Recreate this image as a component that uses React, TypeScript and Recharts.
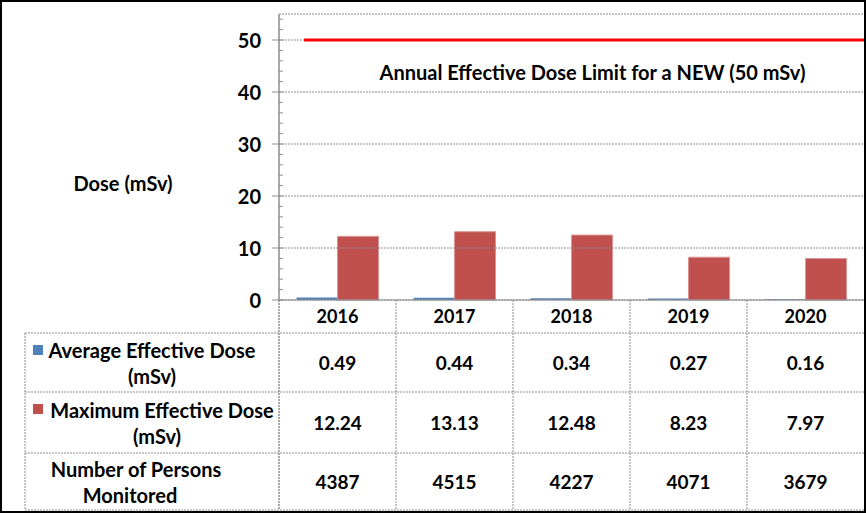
import React from "react";
import { BarChart, Bar, XAxis, YAxis, ReferenceLine } from "recharts";

const YEARS = ["2016", "2017", "2018", "2019", "2020"];
const AVG_DOSE = [0.49, 0.44, 0.34, 0.27, 0.16];
const MAX_DOSE = [12.24, 13.13, 12.48, 8.23, 7.97];
const PERSONS = [4387, 4515, 4227, 4071, 3679];
const DOSE_LIMIT = 50;

const MAJOR_TICKS = [0, 10, 20, 30, 40, 50];
const MINOR_TICKS = [0, 2, 4, 6, 8, 10, 12, 14, 16, 18, 20, 22, 24, 26, 28, 30, 32, 34, 36, 38, 40, 42, 44, 46, 48, 50, 52, 54];

const W = 866;
const H = 513;
const PLOT_LEFT = 279;
const PLOT_RIGHT = 864;
const PLOT_TOP = 14;
const PLOT_BOTTOM = 300;
const BAND = (PLOT_RIGHT - PLOT_LEFT) / YEARS.length;

const BLUE = "#4F81BD";
const RED = "#C0504D";
const GRID = "#8c8c8c";
const FONT = "Lato, 'Noto Sans', sans-serif";

const chartData = YEARS.map((year, i) => ({
  year,
  avg: AVG_DOSE[i],
  max: MAX_DOSE[i],
}));

// table rows under the plot (legend key + label lines + values)
const ROWS = [
  { color: BLUE, lines: ["Average Effective Dose", "(mSv)"], cx: [152, 152], values: AVG_DOSE.map((v) => v.toFixed(2)) },
  { color: RED, lines: ["Maximum Effective Dose", "(mSv)"], cx: [162, 157], values: MAX_DOSE.map((v) => v.toFixed(2)) },
  { color: null, lines: ["Number of Persons", "Monitored"], cx: [136, 130], values: PERSONS.map((v) => String(v)) },
];
const ROW_LINES = [333, 392, 453, 510];

const YTick = ({ x, y, payload }: any) => {
  const major = payload.value % 10 === 0;
  return (
    <g>
      <line x1={x} x2={x + 4} y1={y} y2={y} stroke={GRID} />
      {major && <line x1={x - 7} x2={x} y1={y} y2={y} stroke={GRID} />}
      {major && (
        <text x={x - 18} y={y} textAnchor="end" dominantBaseline="central" fontSize={20} fontWeight="bold" fill="#000" fontFamily={FONT}>
          {payload.value}
        </text>
      )}
    </g>
  );
};

const XTick = ({ x, y, payload }: any) => (
  <text x={x} y={y + 16} textAnchor="middle" dominantBaseline="central" fontSize={18} fontWeight="bold" fill="#000" fontFamily={FONT}>
    {payload.value}
  </text>
);

const renderLimitLine = (p: any) => (
  <line x1={p.x1 + 25} y1={p.y1} x2={p.x2 + 2} y2={p.y2} stroke="#ff0000" strokeWidth={3} />
);

const renderLimitLabel = (p: any) => {
  const vb = p && p.viewBox ? p.viewBox : { x: PLOT_LEFT, y: 40, width: PLOT_RIGHT - PLOT_LEFT };
  return (
    <text x={vb.x + vb.width / 2 + 21} y={vb.y + 32} textAnchor="middle" dominantBaseline="central" fontSize={20} fontWeight="bold" fill="#000" fontFamily={FONT}>
      Annual Effective Dose Limit for a NEW (50 mSv)
    </text>
  );
};

const TableOverlay = () => {
  const cols = YEARS.map((_, i) => PLOT_LEFT + i * BAND);
  return (
    <svg width={W} height={H} style={{ position: "absolute", left: 0, top: 0, pointerEvents: "none" }}>
      <text x={123} y={183} textAnchor="middle" dominantBaseline="central" fontSize={20} fontWeight="bold" fill="#000" fontFamily={FONT}>
        Dose (mSv)
      </text>
      {ROW_LINES.map((y) => (
        <line key={y} x1={25} x2={865} y1={y} y2={y} stroke={GRID} strokeDasharray="2 1" />
      ))}
      <line x1={25} x2={25} y1={ROW_LINES[0]} y2={ROW_LINES[3]} stroke={GRID} strokeDasharray="2 1" />
      {[...cols, PLOT_LEFT + YEARS.length * BAND + 1].map((x, i) => (
        <line key={i} x1={x} x2={x} y1={PLOT_BOTTOM} y2={ROW_LINES[3]} stroke={GRID} strokeWidth={i === 0 ? 1.5 : 1} strokeDasharray="2 1" />
      ))}
      {ROWS.map((row, r) => {
        const top = ROW_LINES[r];
        const bottom = ROW_LINES[r + 1];
        const mid = (top + bottom) / 2;
        return (
          <g key={r}>
            {row.color && <rect x={33} y={top + 12} width={10} height={10} fill={row.color} />}
            {row.lines.map((t, k) => (
              <text key={k} x={row.cx[k]} y={mid - 13 + k * 26} textAnchor="middle" dominantBaseline="central" fontSize={20} fontWeight="bold" fill="#000" fontFamily={FONT}>
                {t}
              </text>
            ))}
            {row.values.map((v, i) => (
              <text key={i} x={PLOT_LEFT + (i + 0.5) * BAND} y={mid} textAnchor="middle" dominantBaseline="central" fontSize={19} fontWeight="bold" fill="#000" fontFamily={FONT}>
                {v}
              </text>
            ))}
          </g>
        );
      })}
    </svg>
  );
};

export default function App() {
  return (
    <div style={{ position: "fixed", left: 0, top: 0, width: W, height: H, background: "#fff", fontFamily: FONT }}>
      <BarChart
        width={W}
        height={H}
        data={chartData}
        margin={{ top: PLOT_TOP, right: W - PLOT_RIGHT, left: PLOT_LEFT - 40, bottom: H - PLOT_BOTTOM - 33 }}
        barCategoryGap="15%"
        barGap={0}
      >
        {MAJOR_TICKS.map((v) => (
          <ReferenceLine key={v} y={v} stroke={GRID} strokeDasharray="2 1" />
        ))}
        <ReferenceLine y={55} stroke={GRID} strokeDasharray="2 1" />
        <XAxis
          dataKey="year"
          height={33}
          interval={0}
          tickLine={false}
          tickSize={0}
          tickMargin={0}
          axisLine={{ stroke: GRID }}
          tick={<XTick />}
        />
        <YAxis
          width={40}
          domain={[0, 55]}
          ticks={MINOR_TICKS}
          interval={0}
          tickLine={false}
          tickSize={0}
          tickMargin={0}
          axisLine={{ stroke: GRID, strokeWidth: 1.5 }}
          tick={<YTick />}
        />
        <Bar dataKey="avg" fill={BLUE} isAnimationActive={false} />
        <Bar dataKey="max" fill={RED} stroke="#d99694" strokeWidth={1} isAnimationActive={false} />
        <ReferenceLine y={DOSE_LIMIT} shape={renderLimitLine} label={renderLimitLabel} />
      </BarChart>
      <TableOverlay />
      <div style={{ position: "absolute", left: 0, top: 0, width: W, height: H, boxSizing: "border-box", border: "2px solid #000", pointerEvents: "none" }} />
    </div>
  );
}
